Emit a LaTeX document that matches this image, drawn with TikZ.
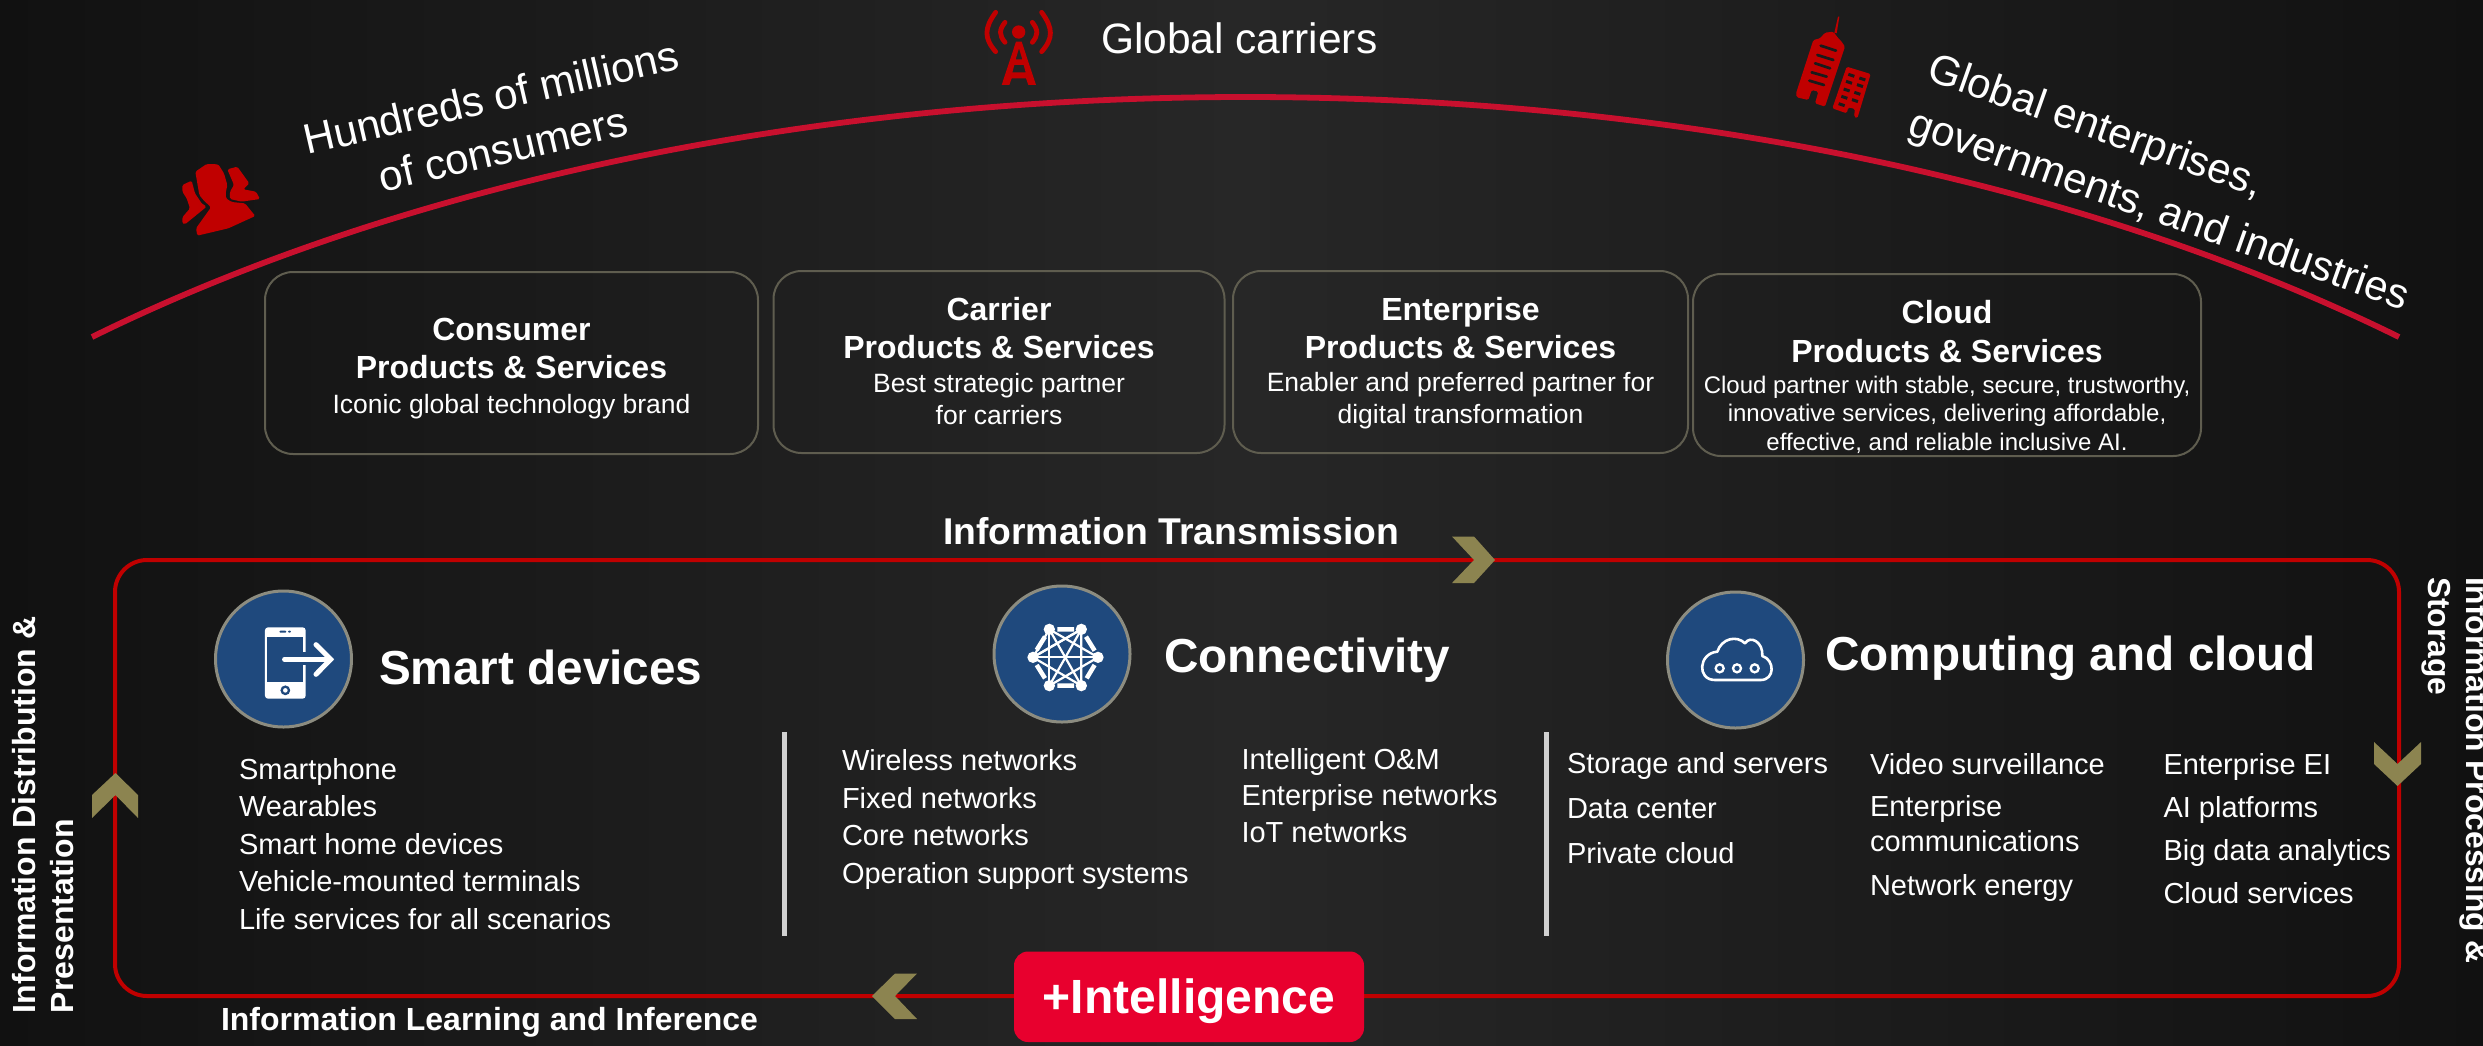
\documentclass[tikz,border=0pt]{standalone}
\usepackage{fontspec}
\setmainfont{Liberation Sans}
\newcommand\pxfont[2]{\fontsize{#1}{#2}\selectfont}
\newcommand\hdfont{\pxfont{32}{32}\bfseries}
\definecolor{bgmid}{HTML}{272727}
\definecolor{bgedge}{HTML}{111111}
\definecolor{slotc}{HTML}{1A1A1A}
\definecolor{arcred}{HTML}{C8102E}
\definecolor{framered}{HTML}{C00000}
\definecolor{hotred}{HTML}{E8002E}
\definecolor{chevc}{HTML}{8C8450}
\definecolor{boxline}{HTML}{5F5D4F}
\definecolor{circfill}{HTML}{1F497D}
\definecolor{circline}{HTML}{8C8C80}
\definecolor{divc}{HTML}{D0D0D0}
\tikzset{
  txt/.style={inner sep=0pt,outer sep=0pt,text=white,align=left,anchor=base west},
  ctxt/.style={inner sep=0pt,outer sep=0pt,text=white,align=center,anchor=base},
  listtxt/.style={txt,font=\pxfont{29}{37.5}},
  headtxt/.style={txt,font=\pxfont{47.7}{50}\bfseries},
  boxtxt/.style={ctxt,font=\pxfont{26.5}{32}},
  pbox/.style={draw=boxline,line width=2pt,rounded corners=28pt,inner sep=0pt},
  disc/.style={circle,draw=circline,fill=circfill,line width=3pt,minimum size=136pt,inner sep=0pt},
  chev/.style={fill=chevc},
  divider/.style={divc,line width=5pt},
  icon/.style={fill=framered}
}
\begin{document}
\begin{tikzpicture}[x=1pt,y=-1pt]
\useasboundingbox (0,0) rectangle (2483,1045);
\shade[left color=bgedge,right color=bgedge,middle color=bgmid] (0,0) rectangle (2483,1045);

% top arc
\coordinate (arcL) at (92,337);
\coordinate (arcR) at (2399,337);
\draw[arcred,line width=5.8pt] (arcL) .. controls (742,17) and (1749,17) .. (arcR);

% audience labels
\node[ctxt,rotate=13,font=\pxfont{42.3}{53}] (consumers) at (506,163.5) {Hundreds of millions\\of consumers};
\node[txt,font=\pxfont{42.5}{42},anchor=base west] (carriers) at (1101,53) {Global carriers};
\node[txt,rotate=-19.5,font=\pxfont{42}{58}] (enterprises) at (1906,134) {Global enterprises,\\governments, and industries};

% product boxes
\node[pbox,minimum width=493pt,minimum height=182pt] (b1) at (511.5,363) {};
\node[pbox,minimum width=451pt,minimum height=182pt] (b2) at (999,362) {};
\node[pbox,minimum width=455pt,minimum height=182pt] (b3) at (1460.5,362) {};
\node[pbox,minimum width=508pt,minimum height=182pt] (b4) at (1947,365) {};

\node[boxtxt] (t1) at (511.5,413) {{\hdfont Consumer}\\[6pt]{\hdfont Products \& Services}\\[3pt]Iconic global technology brand};
\node[boxtxt] (t2) at (999,424) {{\hdfont Carrier}\\[6pt]{\hdfont Products \& Services}\\[2pt]Best strategic partner\\for carriers};
\node[boxtxt] (t3) at (1460.5,423) {{\hdfont Enterprise}\\[6pt]{\hdfont Products \& Services}\\[1pt]Enabler and preferred partner for\\digital transformation};
\node[ctxt,font=\pxfont{24}{28.5}] (t4) at (1947,450) {{\hdfont Cloud}\\[10.5pt]{\hdfont Products \& Services}\\[2.5pt]Cloud partner with stable, secure, trustworthy,\\innovative services, delivering affordable,\\effective, and reliable inclusive AI.};

% loop frame
\node[draw=framered,line width=4pt,rounded corners=32pt,minimum width=2284pt,minimum height=436pt,inner sep=0pt] (frame) at (1257,778) {};

% chevrons
\fill[chev] (1452,536.5) -- (1474,536.5) -- (1495,560) -- (1474,583) -- (1452,583) -- (1474,560) -- cycle;
\fill[chev] (2374,742) -- (2397.5,764) -- (2421,742) -- (2421,764) -- (2397.5,786) -- (2374,764) -- cycle;
\fill[chev] (872,996) -- (895,973.5) -- (917,973.5) -- (895,996) -- (917,1019) -- (895,1019) -- cycle;
\fill[chev] (115.5,773) -- (138,795) -- (138,818) -- (115.5,795) -- (92,818) -- (92,795) -- cycle;

% frame labels
\node[txt,font=\pxfont{37.3}{38}\bfseries] (ltop) at (943,544) {Information Transmission};
\node[txt,font=\pxfont{32}{33}\bfseries] (lbot) at (221,1030) {Information Learning and Inference};
\node[txt,rotate=90,font=\pxfont{32}{38}\bfseries] (lleft) at (73,1013) {Information Distribution \&\\Presentation};
\node[txt,rotate=-90,font=\pxfont{31.8}{38}\bfseries] (lright) at (2428,577) {Information Processing \&\\Storage};

% intelligence badge
\node[fill=hotred,rounded corners=14pt,minimum width=350pt,minimum height=90.5pt,inner sep=0pt,text=white,font=\pxfont{48}{48}\bfseries] (intel) at (1189,996.75) {\raisebox{-17pt}[0pt][0pt]{+Intelligence}};

% discs
\node[disc] (d1) at (283.5,659) {};
\node[disc] (d2) at (1062,654) {};
\node[disc] (d3) at (1735.5,660) {};

% headings
\node[headtxt] (h1) at (379,684) {Smart devices};
\node[headtxt] (h2) at (1164,672) {Connectivity};
\node[headtxt] (h3) at (1825,670) {Computing and cloud};

% lists
\node[listtxt] (l1) at (239,929) {Smartphone\\Wearables\\Smart home devices\\Vehicle-mounted terminals\\Life services for all scenarios};
\node[listtxt] (l2) at (842,883) {Wireless networks\\Fixed networks\\Core networks\\Operation support systems};
\node[listtxt,font=\pxfont{29}{36.5}] (l3) at (1241.5,842) {Intelligent O\&M\\Enterprise networks\\IoT networks};
\node[listtxt,font=\pxfont{29}{44.8}] (l4) at (1567,863) {Storage and servers\\Data center\\Private cloud};
\node[listtxt,font=\pxfont{29}{35.5}] (l5) at (1870,895) {Video surveillance\\[6pt]Enterprise\\communications\\[8pt]Network energy};
\node[listtxt,font=\pxfont{29}{43}] (l6) at (2163.5,903.5) {Enterprise EI\\AI platforms\\Big data analytics\\Cloud services};

% dividers
\draw[divider] (784.5,732) -- (784.5,936);
\draw[divider] (1546,732) -- (1546,936);

% phone icon
\begin{scope}[shift={(190,570)},x=0.3333pt,y=-0.3333pt]
  \fill[white,rounded corners=3pt] (225,172) rectangle (347,386);
  \fill[circfill] (232,200) rectangle (340,335);
  \fill[circfill] (338,247) rectangle (349,285);
  \fill[circfill,rounded corners=1pt] (268,182) rectangle (289,188);
  \fill[circfill,rounded corners=1pt] (294,182) rectangle (303,188);
  \draw[circfill,line width=2.3pt] (286,361) circle[radius=11];
  \draw[white,line width=4.5pt,line cap=round,line join=miter] (283,268) -- (420,268);
  \draw[white,line width=5pt,line cap=round,line join=miter] (378,224) -- (422,268) -- (378,313);
\end{scope}

% network icon
\begin{scope}[shift={(970,570)},x=0.3333pt,y=-0.3333pt]
  \foreach \a/\b/\c/\d in {238/178/334/347,334/178/238/347,189/262/384/262,238/178/384/262,334/178/189/262,238/347/384/262,334/347/189/262,238/178/238/347,334/178/334/347,238/178/189/262}
    \draw[white,line width=2.2pt] (\a,\b) -- (\c,\d);
  \draw[white,line width=2.2pt] (334,347) -- (334,178) (189,262) -- (334,178);
  \draw[white,line width=4.5pt] (262,178) -- (312,178) (262,347) -- (312,347)
    (225,200) -- (200,240) (348,200) -- (374,242) (200,285) -- (225,325) (374,285) -- (350,325);
  \foreach \a/\b in {238/178,334/178,189/262,384/262,238/347,334/347}
    \fill[white] (\a,\b) circle[radius=17];
\end{scope}

% cloud icon
\begin{scope}[shift={(1640,570)},x=0.3333pt,y=-0.3333pt]
  \draw[white,line width=2.6pt,line join=round]
    (225,330) -- (362,330)
    .. controls (405,330) and (405,270) .. (367,258)
    .. controls (370,215) and (330,195) .. (315,220)
    .. controls (290,195) and (245,205) .. (232,245)
    .. controls (175,250) and (170,330) .. (225,330) -- cycle;
  \foreach \a in {239,291,344}
    \draw[white,line width=2.3pt] (\a,295) circle[radius=12];
\end{scope}

% consumer icon
\begin{scope}[shift={(150,130)},x=0.3333pt,y=-0.3333pt]
  \fill[icon,rounded corners=1.5pt] (136,125) -- (170,102) -- (205,103) -- (222,130) -- (232,165) -- (227,190) -- (228,205) -- (245,216) -- (285,220) -- (316,258) -- (235,295) -- (142,317) -- (138,295) -- (183,232) -- (160,210) -- (148,195) -- cycle;
  \fill[icon,rounded corners=1.5pt] (232,118) -- (262,110) -- (280,135) -- (298,160) -- (280,178) -- (318,185) -- (330,207) -- (275,215) -- (240,207) -- (240,185) -- (252,165) -- cycle;
  \fill[icon,rounded corners=1.5pt] (97,165) -- (125,152) -- (135,190) -- (155,220) -- (170,230) -- (105,283) -- (97,280) -- (97,262) -- (120,235) -- (110,205) -- (97,185) -- cycle;
\end{scope}

% tower icon
\begin{scope}[shift={(960,0)},x=0.3333pt,y=-0.3333pt]
  \fill[framered] (176,96) circle[radius=20];
  \draw[framered,line width=4.8pt,line cap=round]
    (135,67) .. controls (117,90) and (117,105) .. (135,127)
    (217,67) .. controls (235,90) and (235,105) .. (217,127)
    (107,37) .. controls (72,85) and (72,115) .. (107,155)
    (245,37) .. controls (280,85) and (280,115) .. (245,155);
  \fill[framered,even odd rule] (168,125) -- (185,125) -- (228,255) -- (205,255) -- (198,235) -- (155,235) -- (148,255) -- (125,255) -- cycle
    (177,145) -- (187,178) -- (167,178) -- cycle
    (163,195) -- (191,195) -- (197,217) -- (157,217) -- cycle;
\end{scope}

% building icon
\begin{scope}[shift={(1780,10)},x=0.3333pt,y=-0.3333pt]
  \fill[icon] (174,20) -- (178,20) -- (170,70) -- (163,68) -- cycle;
  \fill[icon,rounded corners=1.5pt] (160,65) -- (135,68) -- (120,85) -- (100,90) -- (48,250) -- (50,262) -- (85,270) -- (95,240) -- (115,245) -- (105,280) -- (135,290) -- (195,110) -- (185,95) -- (175,85) -- cycle;
  \foreach \a/\b/\c/\d in {122/107/168/122,112/135/160/150,105/160/150/175,95/187/140/200,88/212/132/225}
    \draw[slotc,line width=2.7pt,line cap=round] (\a,\b) -- (\c,\d);
  \fill[icon,rounded corners=1.5pt] (200,170) -- (272,192) -- (232,325) -- (222,320) -- (225,297) -- (205,292) -- (200,310) -- (157,295) -- cycle;
  \foreach \a/\b in {214/196,207/217,200/240,193/262,185/284,247/207,240/227,232/250,225/272}
    \draw[slotc,line width=3pt] ({\a-9},{\b-3}) -- ({\a+9},{\b+3});
\end{scope}
\end{tikzpicture}
\end{document}
